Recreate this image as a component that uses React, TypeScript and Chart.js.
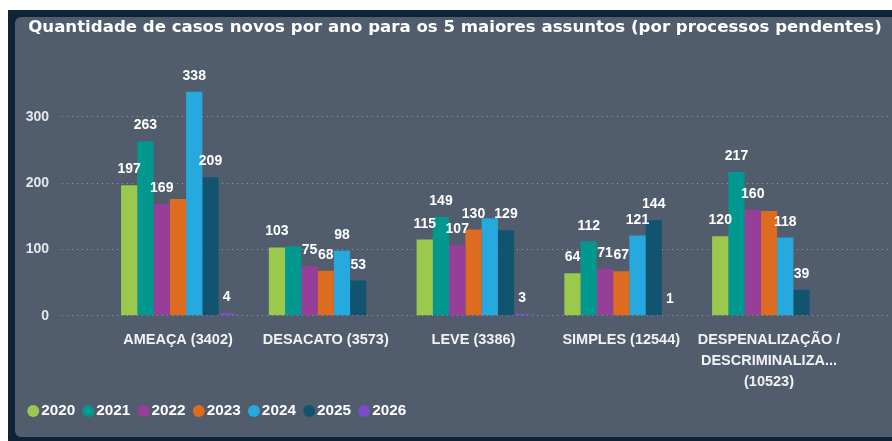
import React, { useEffect, useRef } from "react";
import { Chart, registerables } from "chart.js";

Chart.register(...registerables);

// ---- data ----
const categories: string[][] = [
  ["AMEAÇA (3402)"],
  ["DESACATO (3573)"],
  ["LEVE (3386)"],
  ["SIMPLES (12544)"],
  ["DESPENALIZAÇÃO /", "DESCRIMINALIZA...", "(10523)"],
];
const years = ["2020", "2021", "2022", "2023", "2024", "2025", "2026"];
const values2020 = [197, 103, 115, 64, 120];
const values2021 = [263, 105, 149, 112, 217];
const values2022 = [169, 75, 107, 71, 160];
const values2023 = [176, 68, 130, 67, 158];
const values2024 = [338, 98, 147, 121, 118];
const values2025 = [209, 53, 129, 144, 39];
const values2026 = [4, null, 3, 1, null];
const yTickValues = [0, 100, 200, 300];
// labels not shown in the original (overlap hidden): [seriesIndex, categoryIndex]
const hiddenLabels: [number, number][] = [
  [3, 0],
  [1, 1],
  [4, 2],
  [3, 4],
];

const seriesValues = [values2020, values2021, values2022, values2023, values2024, values2025, values2026];
const palette = ["#9BC94E", "#01998F", "#973F98", "#DD6B20", "#25A9DF", "#12546F", "#7B4CC6"];

const FONT = '"Liberation Sans", Arial, sans-serif';
const TITLE_FONT = '"DejaVu Sans", sans-serif';

const valueLabelPlugin = {
  id: "valueLabels",
  afterDatasetsDraw(chart: any) {
    const ctx = chart.ctx;
    ctx.save();
    ctx.font = `700 14px ${FONT}`;
    ctx.fillStyle = "#ffffff";
    ctx.textAlign = "center";
    ctx.textBaseline = "alphabetic";
    chart.data.datasets.forEach((ds: any, di: number) => {
      const meta = chart.getDatasetMeta(di);
      meta.data.forEach((bar: any, ci: number) => {
        const v = ds.data[ci]?.y;
        if (v === null || v === undefined) return;
        if (hiddenLabels.some(([s, c]) => s === di && c === ci)) return;
        ctx.fillText(String(v), bar.x, bar.y - 12);
      });
    });
    ctx.restore();
  },
};

function BarChart() {
  const ref = useRef<HTMLCanvasElement | null>(null);
  useEffect(() => {
    if (!ref.current) return;
    const chart = new Chart(ref.current, {
      type: "bar",
      data: {
        datasets: years.map((y, i) => ({
          label: y,
          data: seriesValues[i].map((v, ci) => ({ x: ci, y: v })),
          backgroundColor: palette[i],
          borderWidth: 0,
          categoryPercentage: 0.77,
          barPercentage: 1,
        })),
      },
      options: {
        responsive: false,
        animation: false,
        layout: { padding: { left: 5, right: 2, top: 0, bottom: 8.25 } },
        plugins: {
          title: {
            display: true,
            text: "Quantidade de casos novos por ano para os 5 maiores assuntos (por processos pendentes)",
            color: "#ffffff",
            font: { family: TITLE_FONT, size: 16.6, weight: "700", lineHeight: 1.2 },
            padding: { top: 1, bottom: 38 },
          },
          legend: {
            position: "bottom",
            align: "start",
            labels: {
              color: "#ffffff",
              font: { family: FONT, size: 15.3, weight: "700" },
              usePointStyle: true,
              pointStyle: "circle",
              boxHeight: 8.5,
              boxWidth: 0.5,
              padding: 13,
            },
          },
          tooltip: { enabled: false },
        },
        scales: {
          x: {
            type: "linear",
            offset: false,
            min: -0.785,
            max: 4.819,
            afterBuildTicks: (scale: any) => {
              scale.ticks = categories.map((_, i) => ({ value: i }));
            },
            afterFit: (scale: any) => {
              scale.height = 74.75;
            },
            grid: { display: false, drawTicks: false, offset: false },
            border: { display: false },
            ticks: {
              autoSkip: false,
              maxRotation: 0,
              padding: 14,
              color: "#f2f2f2",
              font: { family: FONT, size: 14.5, weight: "700", lineHeight: 1.45 },
              callback: (value: any) => categories[Math.round(Number(value))] ?? "",
            },
          },
          y: {
            min: 0,
            max: 362,
            afterBuildTicks: (scale: any) => {
              scale.ticks = yTickValues.map((v) => ({ value: v }));
            },
            afterFit: (scale: any) => {
              scale.width = 42;
            },
            grid: { color: "rgba(205,210,218,0.55)", lineWidth: 1, drawTicks: false },
            border: { display: false, dash: [1, 4] },
            ticks: {
              padding: 13,
              color: "#e4e7eb",
              font: { family: FONT, size: 14, weight: "700" },
            },
          },
        },
      } as any,
      plugins: [valueLabelPlugin],
    });
    return () => chart.destroy();
  }, []);
  return <canvas ref={ref} width={877} height={420} style={{ display: "block" }} />;
}

export default function App() {
  return (
    <div
      style={{
        position: "absolute",
        left: 8,
        top: 10,
        width: 884,
        height: 431,
        background: "#0d2438",
      }}
    >
      <div
        style={{
          position: "absolute",
          left: 7,
          top: 7,
          width: 877,
          height: 420,
          background: "#515c6d",
          borderRadius: "6px 0 0 6px",
          overflow: "hidden",
        }}
      >
        <BarChart />
      </div>
    </div>
  );
}
